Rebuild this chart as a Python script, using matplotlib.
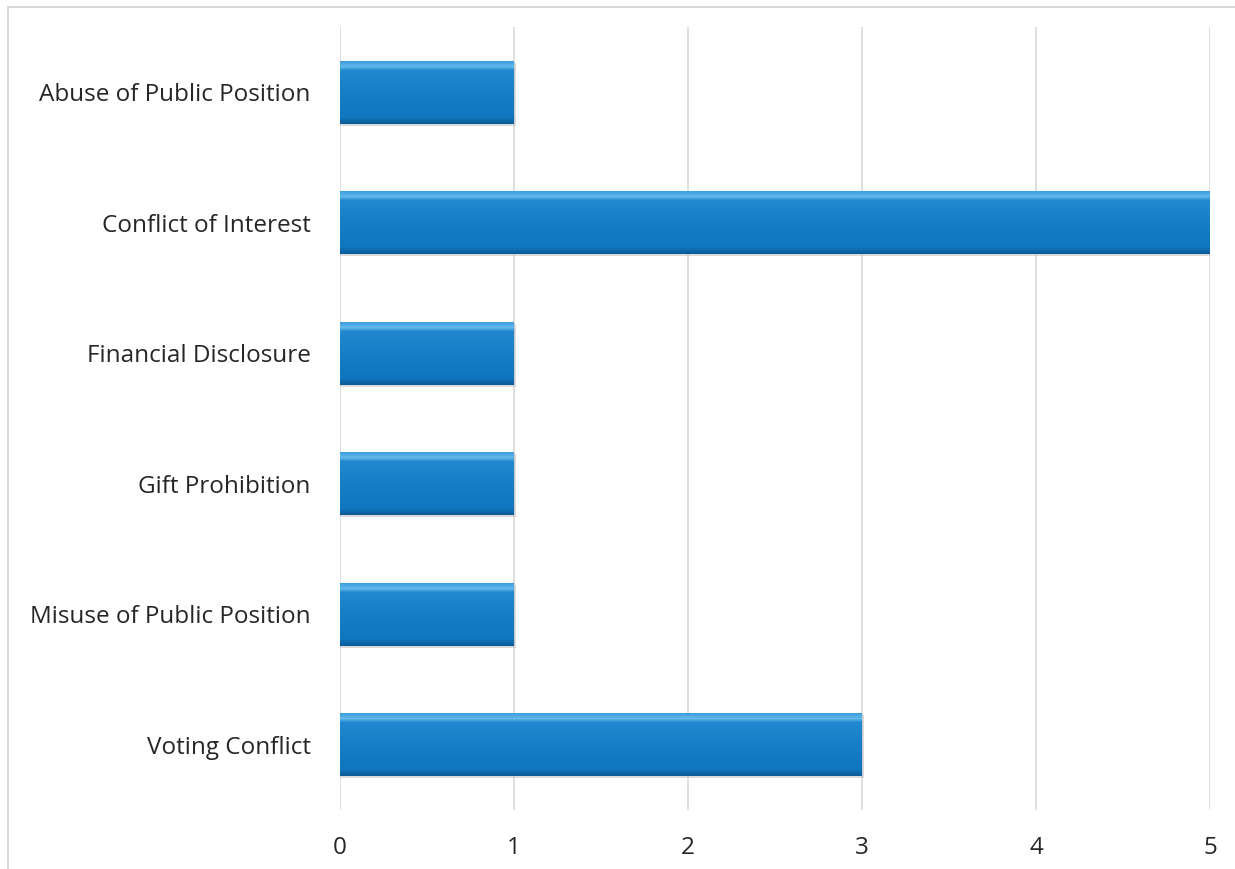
import numpy as np
import matplotlib.pyplot as plt
from matplotlib.colors import LinearSegmentedColormap
from matplotlib.patches import Rectangle

categories = ['Abuse of Public Position', 'Conflict of Interest', 'Financial Disclosure',
              'Gift Prohibition', 'Misuse of Public Position', 'Voting Conflict']
counts = [1, 5, 1, 1, 1, 3]
xticks = [0, 1, 2, 3, 4, 5]

plt.rcParams['font.family'] = ['Open Sans', 'DejaVu Sans']

# bevelled bar look: light top edge, blue body, dark bottom edge
bevel = LinearSegmentedColormap.from_list('bevel', [
    (0.0, '#0c5c98'), (0.05, '#0e68aa'), (0.10, '#0f76bf'),
    (0.55, '#167fc7'), (0.86, '#2289d0'), (0.92, '#62b8ea'), (1.0, '#3d9fde')])

fig = plt.figure(figsize=(12.35, 8.69), dpi=100)
fig.patches.append(Rectangle((8 / 1235, -0.01), 1.0, 1 - 7 / 869 + 0.01,
                             transform=fig.transFigure, fill=False,
                             edgecolor='#d9d9d9', linewidth=1.5, zorder=0))
ax = fig.add_axes([340 / 1235, 1 - 810 / 869, 870 / 1235, 783 / 869])

y = np.arange(len(categories))[::-1]
h = 0.48
grad = np.linspace(0, 1, 64).reshape(-1, 1)
for yi, v in zip(y, counts):
    # soft shadow below the bar
    ax.barh(yi - 0.015, v + 0.01, height=h, color='#b8b8b8', alpha=0.5, zorder=2)
    ax.imshow(grad, cmap=bevel, aspect='auto', origin='lower',
              extent=(0, v, yi - h / 2, yi + h / 2), zorder=3)

ax.set_xlim(0, 5)
ax.set_ylim(-0.5, len(categories) - 0.5)
ax.set_xticks(xticks)
ax.set_yticks(y)
ax.set_yticklabels(categories)
ax.grid(axis='x', color='#d9d9d9', linewidth=1.2, zorder=0)
ax.set_axisbelow(True)
for s in ax.spines.values():
    s.set_visible(False)
ax.tick_params(length=0, labelsize=17.5, colors='#262626')
ax.tick_params(axis='x', pad=19)
ax.tick_params(axis='y', pad=21)

fig.savefig('out.png', dpi=100)
